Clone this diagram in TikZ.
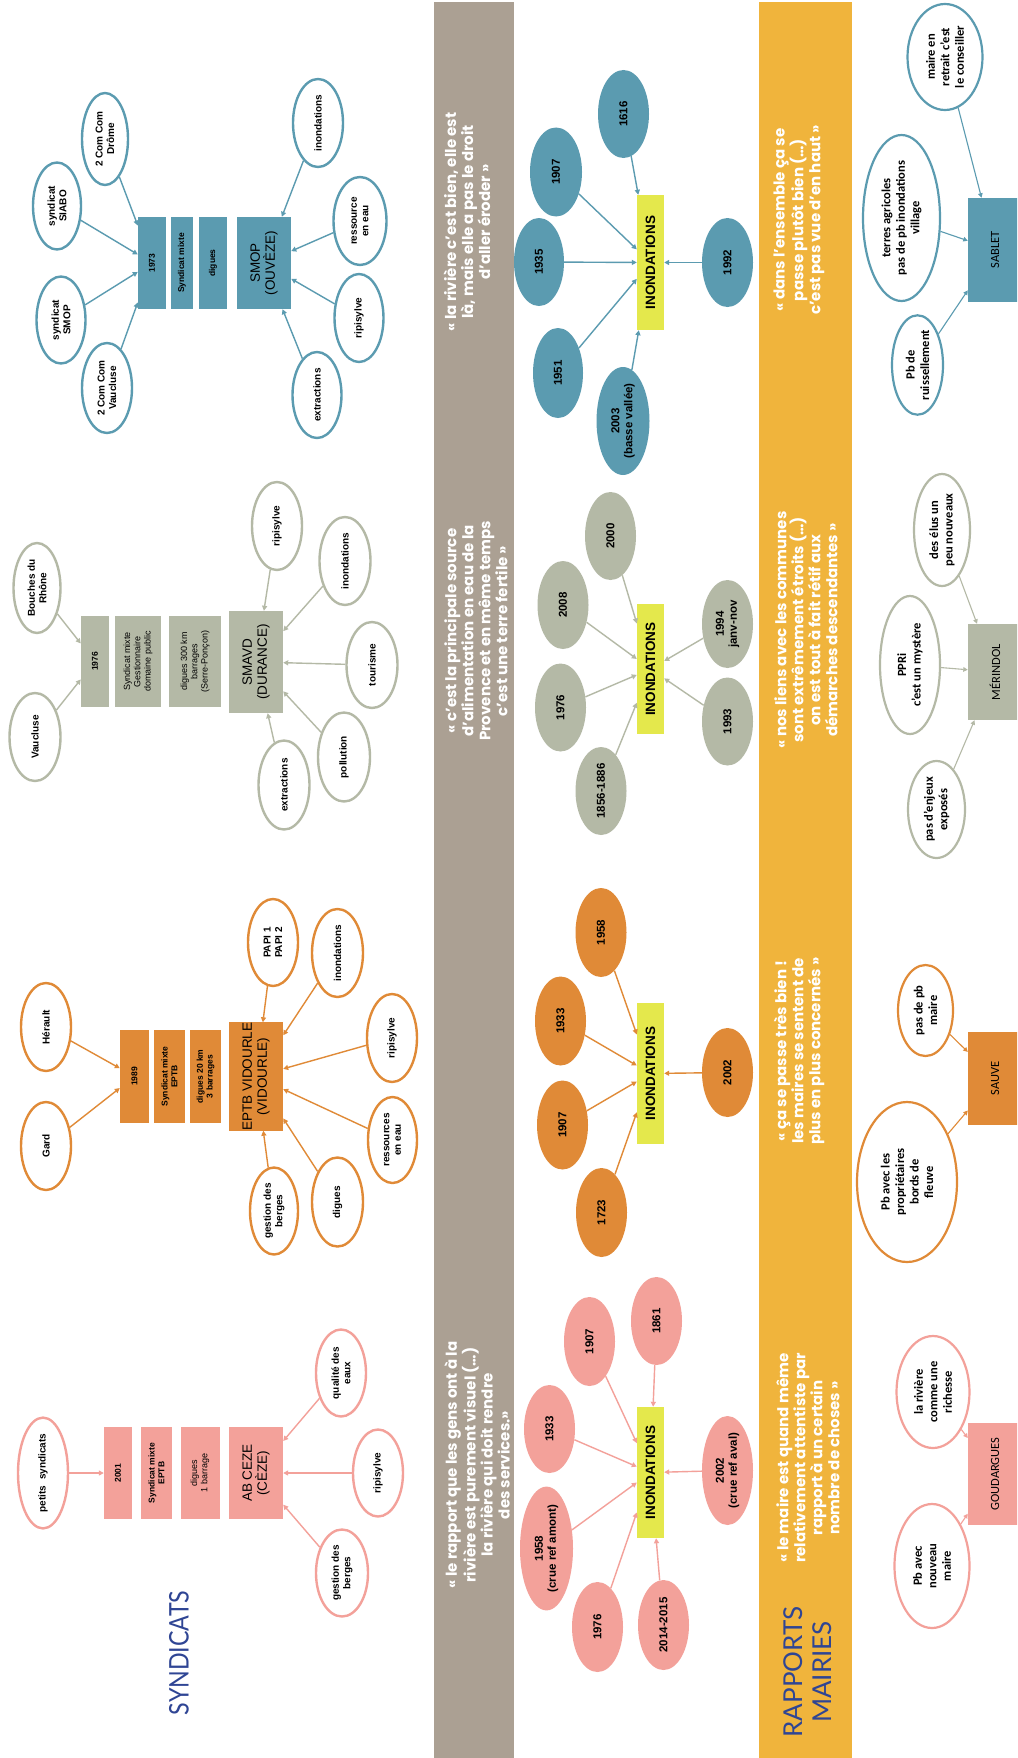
\documentclass[tikz,border=0pt]{standalone}
\usepackage{fontspec}
\setmainfont{Liberation Sans}
\newfontfamily\calib{Carlito}
\newfontfamily\popp{Poppins}
\newfontfamily\latof{Lato}
\usetikzlibrary{shapes.geometric,arrows.meta}
\definecolor{cblue}{HTML}{5B9BB0}
\definecolor{cgrey}{HTML}{B4B9A6}
\definecolor{corange}{HTML}{E08A37}
\definecolor{cpink}{HTML}{F3A19A}
\definecolor{cyel}{HTML}{E4E84C}
\definecolor{ctaupe}{HTML}{ABA093}
\definecolor{cband}{HTML}{F0B43C}
\definecolor{ctitle}{HTML}{2F4594}
\newcommand{\lblE}{\fontsize{10}{11.5}\selectfont\bfseries}
\newcommand{\lblB}{\fontsize{8.5}{9.8}\selectfont\bfseries}
\newcommand{\lblR}{\fontsize{9}{10.2}\selectfont}
\newcommand{\lblBig}{\fontsize{13.5}{15}\selectfont}
\newcommand{\lblInd}{\fontsize{13.5}{15}\selectfont\bfseries}
\newcommand{\lblY}{\fontsize{11.5}{13}\selectfont\bfseries}
\newcommand{\lblM}{\calib\fontsize{12.5}{14.5}\selectfont\bfseries}
\newcommand{\lblMB}{\calib\fontsize{12.5}{14.5}\selectfont}
\newcommand{\lblQ}{\popp\fontsize{15}{17}\selectfont\bfseries}
\begin{document}
\begin{tikzpicture}[x=1pt,y=-1pt,
  every node/.append style={rotate=90},
  sz/.style 2 args={minimum width=#1, minimum height=#2},
  ell/.style={ellipse, draw=#1, line width=2.4pt, fill=white, inner sep=0pt, align=center, font=\lblE},
  fel/.style={ellipse, fill=#1, inner sep=0pt, align=center, font=\lblY},
  mel/.style={ellipse, draw=#1, line width=2.2pt, fill=white, inner sep=0pt, align=center, font=\lblM},
  bx/.style={rectangle, fill=#1, inner sep=0pt, align=center},
  ind/.style={rectangle, fill=cyel, inner sep=0pt, font=\lblInd, minimum height=27},
  con/.style={draw=#1, line width=1.4pt, -{Triangle[length=5pt,width=5pt]}},
  mcon/.style={draw=#1, line width=1.1pt, -{Triangle[length=4.5pt,width=4.5pt]}},
  quote/.style={text=white, align=center, font=\lblQ, inner sep=0pt}]
\useasboundingbox (0,0) rectangle (1017,1758);
\clip (0,0) rectangle (1017,1758);
\fill[white] (0,0) rectangle (1017,1758);

% ---------- SYNDICATS : Ouveze ----------
\node[bx=cblue, sz={92}{28}, font=\lblB] (o1) at (152,263) {1973};
\node[bx=cblue, sz={92}{22}, font=\lblB] (o2) at (182,263) {Syndicat mixte};
\node[bx=cblue, sz={92}{28}, font=\lblB] (o3) at (213,263) {digues};
\node[bx=cblue, sz={92}{54}, font=\lblBig] (o4) at (264,263) {SMOP\\(OUVÈZE)};
\node[ell=cblue, sz={92}{46}] (oa) at (105,139) {2 Com Com\\Drôme};
\node[ell=cblue, sz={87}{48}] (ob) at (57,206) {syndicat\\SIABO};
\node[ell=cblue, sz={87}{49}] (oc) at (61,320) {syndicat\\SMOP};
\node[ell=cblue, sz={90}{50}] (od) at (107,388) {2 Com Com\\Vaucluse};
\node[ell=cblue, sz={88}{50}] (oe) at (318,123) {inondations};
\node[ell=cblue, sz={88}{53}] (of) at (360,221) {ressource\\en eau};
\node[ell=cblue, sz={88}{49}] (og) at (359,318) {ripisylve};
\node[ell=cblue, sz={86}{49}] (oh) at (317,395) {extractions};
\foreach \a in {oa,ob,oc,od} \draw[con=cblue] (\a) -- (o1);
\foreach \a in {oe,of,og,oh} \draw[con=cblue] (\a) -- (o4);

% ---------- Durance ----------
\node[bx=cgrey, sz={91}{28}, font=\lblB] (d1) at (95,661.5) {1976};
\node[bx=cgrey, sz={91}{46}, font=\lblR] (d2) at (138,661.5) {Syndicat mixte\\Gestionnaire\\domaine public};
\node[bx=cgrey, sz={91}{52}, font=\lblR] (d3) at (195,661.5) {digues 300 km\\barrages\\(Serre-Ponçon)};
\node[bx=cgrey, sz={102}{54}, font=\lblBig] (d4) at (256,662) {SMAVD\\(DURANCE)};
\node[ell=cgrey, sz={90}{47}] (da) at (37,588) {Bouches du\\Rhône};
\node[ell=cgrey, sz={88}{51}] (db) at (35,737) {Vaucluse};
\node[ell=cgrey, sz={88}{50}] (dc) at (277,526) {ripisylve};
\node[ell=cgrey, sz={88}{51}] (dd) at (345,561) {inondations};
\node[ell=cgrey, sz={86}{51}] (de) at (372,665) {tourisme};
\node[ell=cgrey, sz={89}{52}] (df) at (344,757) {pollution};
\node[ell=cgrey, sz={89}{51}] (dg) at (284,785) {extractions};
\foreach \a in {da,db} \draw[con=cgrey] (\a) -- (d1);
\foreach \a in {dc,dd,de,df,dg} \draw[con=cgrey] (\a) -- (d4);

% ---------- Vidourle ----------
\node[bx=corange, sz={93}{29}, font=\lblB] (v1) at (134.5,1076.5) {1989};
\node[bx=corange, sz={93}{31}, font=\lblB] (v2) at (169.5,1076.5) {Syndicat mixte\\EPTB};
\node[bx=corange, sz={93}{31}, font=\lblB] (v3) at (205.5,1076.5) {digues 20 km\\3 barrages};
\node[bx=corange, sz={99}{54}, font=\lblBig] (v4) at (256,1076.5) {EPTB VIDOURLE\\(VIDOURLE)};
\node[ell=corange, sz={88}{50}] (va) at (46,1027) {Hérault};
\node[ell=corange, sz={88}{50}] (vb) at (46,1146) {Gard};
\node[ell=corange, sz={87}{50}] (vc) at (273,942.5) {PAPI 1\\PAPI 2};
\node[ell=corange, sz={88}{51}] (vd) at (337.5,953) {inondations};
\node[ell=corange, sz={88}{50}] (ve) at (392,1038) {ripisylve};
\node[ell=corange, sz={86}{49}] (vf) at (392.5,1140) {ressources\\en eau};
\node[ell=corange, sz={89}{51}] (vg) at (337.5,1202) {digues};
\node[ell=corange, sz={87}{48}] (vh) at (274,1211) {gestion des\\berges};
\foreach \a in {va,vb} \draw[con=corange] (\a) -- (v1);
\foreach \a in {vc,vd,ve,vf,vg,vh} \draw[con=corange] (\a) -- (v4);

% ---------- Ceze ----------
\node[bx=cpink, sz={92}{28}, font=\lblB] (c1) at (118,1473) {2001};
\node[bx=cpink, sz={92}{31}, font=\lblB] (c2) at (156.5,1473) {Syndicat mixte\\EPTB};
\node[bx=cpink, sz={92}{39}, font=\lblR] (c3) at (200,1473) {digues\\1 barrage};
\node[bx=cpink, sz={92}{54}, font=\lblBig] (c4) at (256,1473) {AB CEZE\\(CÈZE)};
\node[ell=cpink, sz={107}{50}] (ca) at (43,1473) {petits\ \ syndicats};
\node[ell=cpink, sz={87}{50}] (cb) at (341,1373) {qualité des\\eaux};
\node[ell=cpink, sz={87}{50}] (cc) at (378,1473) {ripisylve};
\node[ell=cpink, sz={87}{52}] (cd) at (342,1573) {gestion des\\berges};
\draw[con=cpink] (ca) -- (c1);
\foreach \a in {cb,cc,cd} \draw[con=cpink] (\a) -- (c4);

\node[font=\latof\fontsize{27}{30}\selectfont, text=ctitle, inner sep=0pt] (t1) at (179,1653) {\scalebox{0.86}[1]{SYNDICATS}};

% ---------- bands ----------
\fill[ctaupe] (434,2) rectangle (514,1758);
\fill[cband] (759,2) rectangle (852,1758);
\node[quote] (q1) at (467,222) {« la rivière c’est bien, elle est\\là, mais elle a pas le droit\\d’aller éroder »};
\node[quote] (q2) at (476,631) {« c’est la principale source\\d’alimentation en eau de la\\Provence et en même temps\\c’est une terre fertile »};
\node[quote] (q3) at (477,1465) {« le rapport que les gens ont à la\\rivière est purement visuel (…)\\la rivière qui doit rendre\\des services.»};
\node[quote] (q4) at (799,220) {« dans l’ensemble ça se\\passe plutôt bien (…)\\c’est pas vue d’en haut »};
\node[quote] (q5) at (806,630) {« nos liens avec les communes\\sont extrêmement étroits (…)\\on est tout à fait rétif aux\\démarches descendantes »};
\node[quote] (q6) at (799,1051) {« ça se passe très bien !\\les maires se sentent de\\plus en plus concernés »};
\node[quote] (q7) at (808,1458) {« le maire est quand même\\relativement attentiste par\\rapport à un certain\\nombre de choses »};
\node[font=\latof\fontsize{26}{29}\selectfont, text=ctitle, align=center, inner sep=0pt] (t2) at (808,1672) {RAPPORTS\\MAIRIES};

% ---------- INONDATIONS ----------
\node[ind, minimum width=135] (oi) at (650.5,262.5) {INONDATIONS};
\node[fel=cblue, sz={88}{51}] (oi1) at (623.5,114) {1616};
\node[fel=cblue, sz={89}{52}] (oi2) at (556,172) {1907};
\node[fel=cblue, sz={88}{50}] (oi3) at (539,262) {1935};
\node[fel=cblue, sz={90}{50}] (oi4) at (558,373) {1951};
\node[fel=cblue, sz={108}{53}] (oi5) at (623,421) {2003\\(basse vallée)};
\node[fel=cblue, sz={89}{51}] (oi6) at (727.5,262.5) {1992};
\foreach \a in {oi1,oi2,oi3,oi4,oi5,oi6} \draw[con=cblue] (\a) -- (oi);

\node[ind, minimum width=130] (di) at (650.5,669) {INONDATIONS};
\node[fel=cgrey, sz={88}{51}] (di1) at (610.5,536) {2000};
\node[fel=cgrey, sz={88}{51}] (di2) at (563,605) {2008};
\node[fel=cgrey, sz={88}{51}] (di3) at (560.5,707.5) {1976};
\node[fel=cgrey, sz={88}{51}] (di4) at (601,791) {1856-1886};
\node[fel=cgrey, sz={88}{51}] (di5) at (727.5,624) {1994\\janv-nov};
\node[fel=cgrey, sz={88}{51}] (di6) at (727.5,721.5) {1993};
\foreach \a in {di1,di2,di3,di4,di5,di6} \draw[con=cgrey] (\a) -- (di);

\node[ind, minimum width=141] (vi) at (650.5,1073.5) {INONDATIONS};
\node[fel=corange, sz={89}{51}] (vi1) at (601,932.5) {1958};
\node[fel=corange, sz={89}{51}] (vi2) at (560.5,1021) {1933};
\node[fel=corange, sz={89}{51}] (vi3) at (562.5,1125) {1907};
\node[fel=corange, sz={89}{51}] (vi4) at (601.5,1212.5) {1723};
\node[fel=corange, sz={89}{51}] (vi5) at (727.5,1072.5) {2002};
\foreach \a in {vi1,vi2,vi3,vi4,vi5} \draw[con=corange] (\a) -- (vi);

\node[ind, minimum width=131] (ci) at (650.5,1472.5) {INONDATIONS};
\node[fel=cpink, sz={88}{51}] (ci1) at (656.5,1321) {1861};
\node[fel=cpink, sz={89}{51}] (ci2) at (589.5,1341.5) {1907};
\node[fel=cpink, sz={88}{51}] (ci3) at (549.5,1429) {1933};
\node[fel=cpink, sz={123}{53}] (ci4) at (546.5,1548.5) {1958\\(crue ref amont)};
\node[fel=cpink, sz={90}{51}] (ci5) at (597.5,1627) {1976};
\node[fel=cpink, sz={90}{51}] (ci6) at (663.5,1625) {2014-2015};
\node[fel=cpink, sz={109}{51}] (ci7) at (727.5,1470.5) {2002\\(crue ref aval)};
\foreach \a in {ci1,ci2,ci3,ci4,ci5,ci6,ci7} \draw[con=cpink] (\a) -- (ci);

% ---------- MAIRIES ----------
\node[bx=cblue, sz={104}{54}, font=\lblMB] (ms) at (995,250) {SABLET};
\node[mel=cblue, sz={106}{75}] (ms1) at (945,57) {maire en\\retrait c’est\\le conseiller};
\node[mel=cblue, sz={166}{77}] (ms2) at (901.5,218) {terres agricoles\\pas de pb inondations\\village};
\node[mel=cblue, sz={98}{51}] (ms3) at (917.5,365) {Pb de\\ruissellement};
\foreach \a in {ms1,ms2,ms3} \draw[mcon=cblue] (\a) -- (ms);

\node[bx=cgrey, sz={96}{54}, font=\lblMB] (mm) at (995,672) {MÉRINDOL};
\node[mel=cgrey, sz={112}{56}] (mm1) at (942,530) {des élus un\\peu nouveaux};
\node[mel=cgrey, sz={138}{60}] (mm2) at (910,665) {PPRi\\c’est un mystère};
\node[mel=cgrey, sz={97}{57}] (mm3) at (936.5,809.5) {pas d’enjeux\\exposés};
\foreach \a in {mm1,mm2,mm3} \draw[mcon=cgrey] (\a) -- (mm);

\node[bx=corange, sz={93}{54}, font=\lblMB] (mv) at (995,1078.5) {SAUVE};
\node[mel=corange, sz={91}{55}] (mv1) at (925.5,1010.5) {pas de pb\\maire};
\node[mel=corange, sz={160}{100}] (mv2) at (907,1182) {Pb avec les\\propriétaires\\bords de\\fleuve};
\foreach \a in {mv1,mv2} \draw[mcon=corange] (\a) -- (mv);

\node[bx=cpink, sz={102}{54}, font=\lblMB] (mc) at (995,1474) {GOUDARGUES};
\node[mel=cpink, sz={112}{73}] (mc1) at (933,1392) {la rivière\\comme une\\richesse};
\node[mel=cpink, sz={124}{75}] (mc2) at (932,1566) {Pb avec\\nouveau\\maire};
\foreach \a in {mc1,mc2} \draw[mcon=cpink] (\a) -- (mc);
\end{tikzpicture}
\end{document}
